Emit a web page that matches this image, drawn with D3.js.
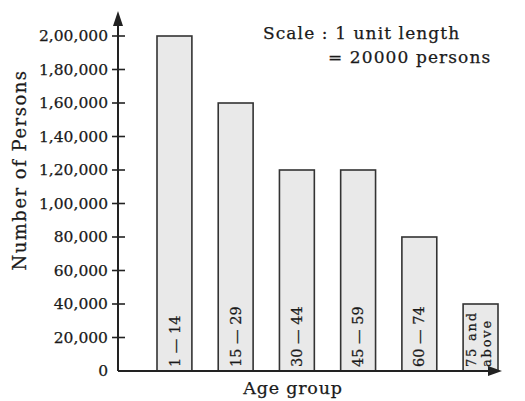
<!DOCTYPE html>
<html>
<head>
<meta charset="utf-8">
<script src="https://cdn.jsdelivr.net/npm/d3@7"></script>
<style>
  body { margin: 0; background: #fff; }
  text { font-family: "DejaVu Serif", serif; fill: #1a1a1a; stroke: #1a1a1a; stroke-width: 0.25px; }
</style>
</head>
<body>
<div id="chart"></div>
<script>
// data
var ageGroups = ["1 — 14", "15 — 29", "30 — 44", "45 — 59", "60 — 74", "75 and above"];
var persons = [200000, 160000, 120000, 120000, 80000, 40000];
var tickValues = [0, 20000, 40000, 60000, 80000, 100000, 120000, 140000, 160000, 180000, 200000];
var tickLabels = ["0", "20,000", "40,000", "60,000", "80,000", "1,00,000", "1,20,000", "1,40,000", "1,60,000", "1,80,000", "2,00,000"];

var svgWidth = 525;
var svgHeight = 401;

var margin = { top: 36, right: 27, bottom: 30, left: 118 };
var height = svgHeight - margin.top - margin.bottom;
var width = svgWidth - margin.left - margin.right;

var svg = d3.select("#chart")
  .append("svg")
  .attr("width", svgWidth)
  .attr("height", svgHeight);

var chartGroup = svg.append("g")
  .attr("transform", `translate(${margin.left}, ${margin.top})`);

// scales
var yScale = d3.scaleLinear()
  .domain([0, 200000])
  .range([height, 0]);

var xScale = d3.scaleBand()
  .domain(ageGroups)
  .range([39, 380])
  .paddingInner(0.43)
  .paddingOuter(0);

// bars
chartGroup.selectAll("rect.bar")
  .data(persons)
  .enter()
  .append("rect")
  .attr("class", "bar")
  .attr("x", (d, i) => xScale(ageGroups[i]))
  .attr("y", d => yScale(d))
  .attr("width", xScale.bandwidth())
  .attr("height", d => height - yScale(d))
  .attr("fill", "#e9e9e9")
  .attr("stroke", "#333")
  .attr("stroke-width", 1.6);

// labels inside bars
chartGroup.selectAll("text.blabel")
  .data(ageGroups)
  .enter()
  .append("text")
  .attr("class", "blabel")
  .attr("transform", d => `translate(${xScale(d) + xScale.bandwidth() / 2}, ${height - 4}) rotate(-90)`)
  .each(function(d) {
    var t = d3.select(this);
    if (d === "75 and above") {
      t.attr("font-size", 13).attr("letter-spacing", 1.8);
      t.append("tspan").attr("x", 0).attr("dy", -4.5).text("75 and");
      t.append("tspan").attr("x", 0).attr("dy", 15).text("above");
    } else {
      t.attr("font-size", 14.5).attr("dy", "0.35em").text(d);
    }
  });

// y axis
var leftAxis = d3.axisLeft(yScale)
  .tickValues(tickValues)
  .tickFormat((d, i) => tickLabels[i])
  .tickSize(0)
  .tickPadding(10);

var yAxis = chartGroup.append("g").call(leftAxis);
yAxis.select(".domain").remove();
yAxis.selectAll("text")
  .attr("font-size", 15.5)
  .attr("font-family", "DejaVu Serif")
  .attr("fill", "#1a1a1a");

// tick marks crossing the axis
chartGroup.selectAll("line.tick")
  .data(tickValues.slice(1))
  .enter()
  .append("line")
  .attr("class", "tick")
  .attr("x1", -6).attr("x2", 7)
  .attr("y1", d => yScale(d)).attr("y2", d => yScale(d))
  .attr("stroke", "#222")
  .attr("stroke-width", 1.6);

// axis lines with arrows
chartGroup.append("line")
  .attr("x1", 0).attr("x2", 0)
  .attr("y1", height).attr("y2", -14)
  .attr("stroke", "#222").attr("stroke-width", 2);
chartGroup.append("path")
  .attr("d", "M0,-25 L-5,-10 L5,-10 Z")
  .attr("fill", "#222");

chartGroup.append("line")
  .attr("x1", 0).attr("x2", width - 6)
  .attr("y1", height).attr("y2", height)
  .attr("stroke", "#222").attr("stroke-width", 2);
chartGroup.append("path")
  .attr("d", `M${width + 4},${height} L${width - 10},${height - 5} L${width - 10},${height + 5} Z`)
  .attr("fill", "#222");

// axis titles
svg.append("text")
  .attr("x", 293)
  .attr("y", 394)
  .attr("text-anchor", "middle")
  .attr("font-size", 17.5)
  .attr("letter-spacing", 0.8)
  .text("Age group");

svg.append("text")
  .attr("transform", "translate(26, 170) rotate(-90)")
  .attr("text-anchor", "middle")
  .attr("font-size", 18)
  .attr("letter-spacing", 1.5)
  .text("Number of Persons");

// scale note
svg.append("text")
  .attr("x", 263)
  .attr("y", 39)
  .attr("font-size", 17)
  .attr("letter-spacing", 1.1)
  .text("Scale : 1 unit length");
svg.append("text")
  .attr("x", 328)
  .attr("y", 63)
  .attr("font-size", 17)
  .attr("letter-spacing", 1.1)
  .text("= 20000 persons");
</script>
</body>
</html>
